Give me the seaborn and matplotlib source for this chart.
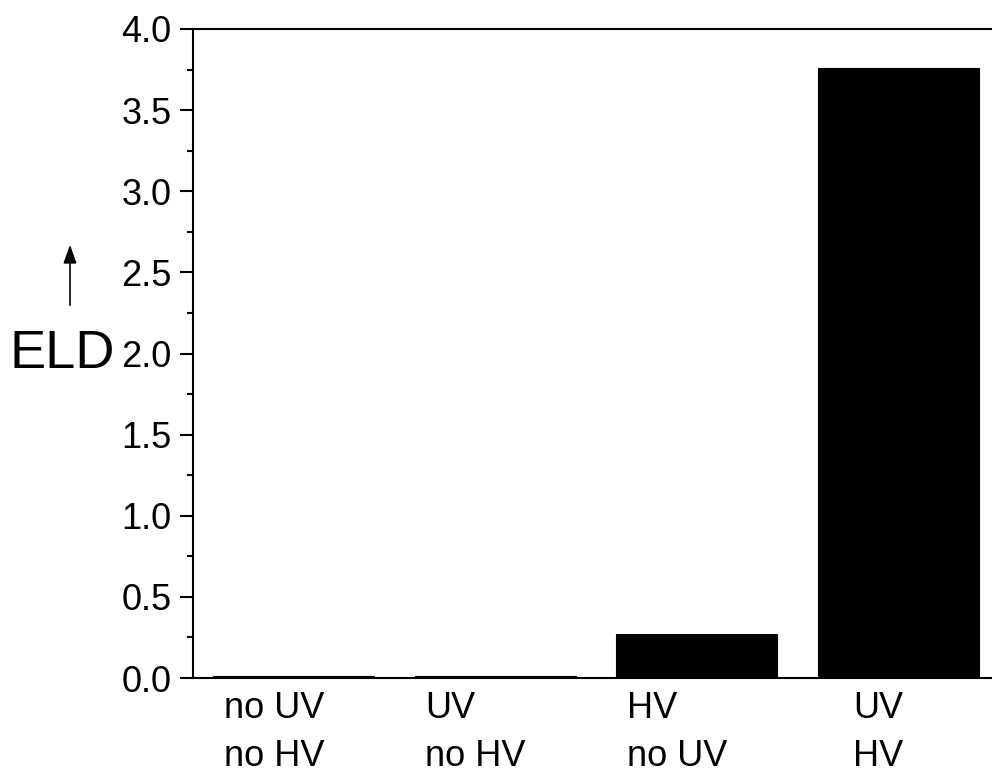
import matplotlib
matplotlib.use('Agg')

import pandas as pd
import matplotlib.pyplot as plt
import seaborn as sns
from matplotlib.ticker import MultipleLocator, FormatStrFormatter
from matplotlib.transforms import ScaledTranslation

sns.set_style('ticks')
plt.rcParams['font.family'] = ['Liberation Sans', 'DejaVu Sans']
plt.rcParams['text.color'] = 'black'
plt.rcParams['xtick.color'] = 'black'
plt.rcParams['ytick.color'] = 'black'
plt.rcParams['xtick.labelcolor'] = 'black'
plt.rcParams['ytick.labelcolor'] = 'black'

# ---- data ----
conditions = ['no UV\nno HV', 'UV\nno HV', 'HV\nno UV', 'UV\nHV']
eld = [0.012, 0.012, 0.27, 3.76]

df = pd.DataFrame({'condition': conditions, 'ELD': eld})

fig = plt.figure(figsize=(9.92, 7.74), dpi=100)
# axes runs a bit past the right edge, as in the source image
ax = fig.add_axes([193 / 992, 1 - 678 / 774, 806 / 992, 649 / 774])

sns.barplot(data=df, x='condition', y='ELD', color='black', width=0.8,
            saturation=1, edgecolor='black', linewidth=0.8, ax=ax)

ax.set_xlim(-0.5, 3.5)
ax.set_ylim(0, 4.0)
ax.yaxis.set_major_locator(MultipleLocator(0.5))
ax.yaxis.set_minor_locator(MultipleLocator(0.25))
ax.yaxis.set_major_formatter(FormatStrFormatter('%.1f'))

for s in ax.spines.values():
    s.set_linewidth(1.5)
    s.set_color('black')

ax.tick_params(axis='y', which='major', length=9.5, width=1.5, pad=6,
               labelsize=26, direction='out')
ax.tick_params(axis='y', which='minor', length=4.5, width=1.5, direction='out')
ax.tick_params(axis='x', length=0, pad=9, labelsize=26)

for lab in ax.get_xticklabels():
    lab.set_multialignment('left')
    lab.set_linespacing(1.5)
    lab.set_transform(lab.get_transform() + ScaledTranslation(-20 / 100, 0, fig.dpi_scale_trans))

ax.set_xlabel('')
ax.set_ylabel('')

# y-axis label with arrow
fig.text(62 / 992, 1 - 354 / 774, 'ELD', fontsize=39, ha='center', va='center')
fig.add_artist(matplotlib.patches.FancyArrowPatch(
    (70 / 992, 1 - 308 / 774), (70 / 992, 1 - 242 / 774),
    transform=fig.transFigure, arrowstyle='-|>,head_length=0.7,head_width=0.25',
    mutation_scale=16, color='black', linewidth=1.2))

fig.savefig('out.png', dpi=100)
plt.close()
